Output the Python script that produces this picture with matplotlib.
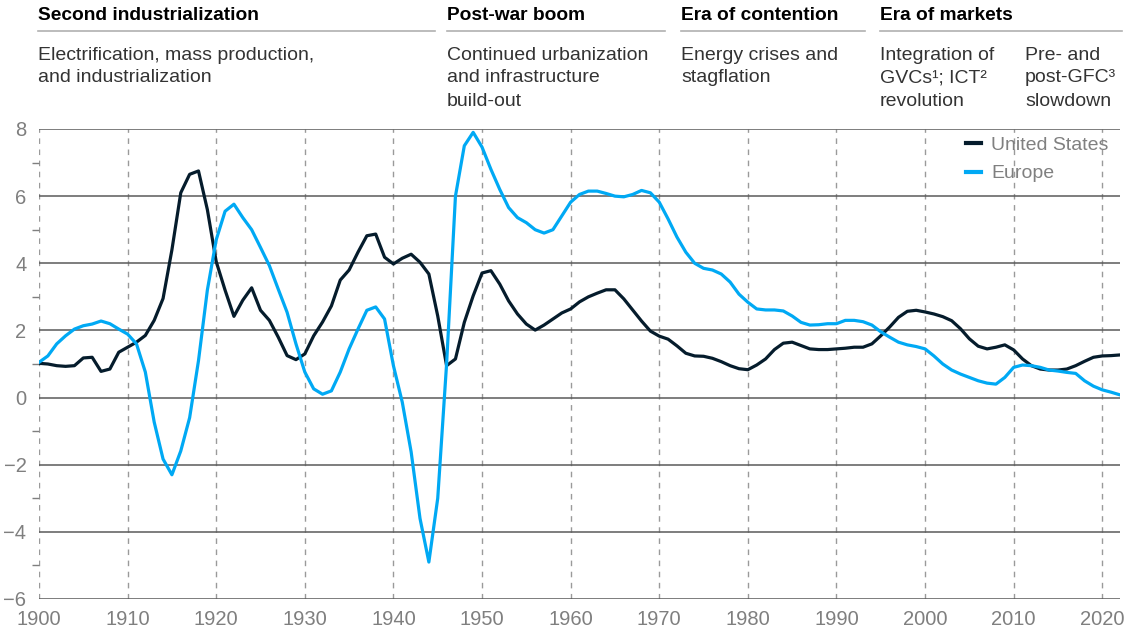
import matplotlib
matplotlib.use("Agg")
import matplotlib.pyplot as plt
from matplotlib.lines import Line2D
import numpy as np

plt.rcParams['font.family'] = ['Liberation Sans', 'DejaVu Sans']

years = list(range(1900, 2023))

us = [1.02, 1.0, 0.95, 0.93, 0.95, 1.18, 1.2, 0.78, 0.85, 1.35,
      1.5, 1.65, 1.85, 2.3, 2.95, 4.4, 6.1, 6.65, 6.75, 5.6,
      4.05, 3.2, 2.42, 2.9, 3.27, 2.6, 2.3, 1.8, 1.25, 1.13,
      1.3, 1.84, 2.25, 2.73, 3.5, 3.8, 4.33, 4.82, 4.87, 4.18,
      3.98, 4.15, 4.27, 4.03, 3.68, 2.43, 0.95, 1.15, 2.24, 3.03,
      3.71, 3.78, 3.38, 2.88, 2.49, 2.19, 2.01, 2.16, 2.34, 2.52,
      2.64, 2.85, 3.0, 3.11, 3.21, 3.21, 2.94, 2.61, 2.28, 1.98,
      1.83, 1.74, 1.54, 1.32, 1.24, 1.23, 1.17, 1.07, 0.95, 0.86,
      0.83, 0.97, 1.15, 1.43, 1.62, 1.65, 1.55, 1.45, 1.43, 1.43,
      1.45, 1.47, 1.5, 1.5, 1.6, 1.84, 2.1, 2.39, 2.57, 2.6,
      2.55, 2.49, 2.41, 2.29, 2.05, 1.75, 1.53, 1.45, 1.5, 1.57,
      1.42, 1.15, 0.95, 0.85, 0.82, 0.82, 0.85, 0.95, 1.08, 1.2,
      1.24, 1.25, 1.27]

europe = [1.05, 1.24, 1.6, 1.84, 2.04, 2.14, 2.19, 2.28, 2.2, 2.04,
          1.89, 1.6, 0.76, -0.73, -1.83, -2.3, -1.59, -0.6, 1.1, 3.2,
          4.7, 5.55, 5.76, 5.36, 5.0, 4.47, 3.93, 3.23, 2.54, 1.6,
          0.76, 0.26, 0.1, 0.2, 0.76, 1.45, 2.04, 2.6, 2.7, 2.34,
          0.95, -0.14, -1.62, -3.6, -4.9, -3.0, 1.0, 6.0, 7.5, 7.9,
          7.46, 6.8, 6.2, 5.66, 5.36, 5.21, 5.0, 4.9, 5.0, 5.41,
          5.82, 6.05, 6.15, 6.15, 6.08, 6.0, 5.98, 6.05, 6.17, 6.1,
          5.82, 5.32, 4.78, 4.33, 4.0, 3.85, 3.8, 3.68, 3.44, 3.08,
          2.84, 2.64, 2.61, 2.61, 2.58, 2.43, 2.24, 2.16, 2.17, 2.2,
          2.2, 2.3, 2.3, 2.26, 2.16, 1.96, 1.8, 1.65, 1.57, 1.52,
          1.45, 1.24, 1.0, 0.82, 0.7, 0.6, 0.5, 0.43, 0.4, 0.6,
          0.9, 0.97, 0.95, 0.9, 0.82, 0.79, 0.75, 0.72, 0.5, 0.34,
          0.23, 0.16, 0.08]

series_names = ["United States", "Europe"]
y_major = [-6, -4, -2, 0, 2, 4, 6, 8]
y_minor = [-5, -3, -1, 1, 3, 5, 7]
x_ticks = list(range(1900, 2021, 10))

era_titles = ["Second industrialization", "Post-war boom", "Era of contention", "Era of markets"]
era_descriptions = ["Electrification, mass production,\nand industrialization",
                    "Continued urbanization\nand infrastructure\nbuild-out",
                    "Energy crises and\nstagflation",
                    "Integration of\nGVCs\u00b9; ICT\u00b2\nrevolution",
                    "Pre- and\npost-GFC\u00b3\nslowdown"]

W, H = 1139, 635
fig = plt.figure(figsize=(W / 100, H / 100), dpi=100)
ax = fig.add_axes([39 / W, 1 - 599 / H, (1120 - 39) / W, (599 - 129) / H])

US_COL = "#051c2c"
EU_COL = "#00a9f4"

for x in x_ticks:
    ax.axvline(x, color="#9a9a9a", lw=1.0, ls=(0, (4, 4)), zorder=1)
for y in y_major:
    ax.axhline(y, color="#5a5a5a", lw=1.1, zorder=1)

ax.plot(years, us, color=US_COL, lw=2.3, solid_joinstyle="round", zorder=3, label=series_names[0])
ax.plot(years, europe, color=EU_COL, lw=2.3, solid_joinstyle="round", zorder=3, label=series_names[1])

ax.set_xlim(1900, 2022)
ax.set_ylim(-6, 8)
ax.set_xticks(x_ticks)
ax.set_yticks(y_major)
ax.set_yticklabels([str(v).replace('-', '\u2212') for v in y_major])
ax.set_yticks(y_minor, minor=True)
ax.tick_params(axis='y', which='major', length=0, pad=9, labelsize=14.5, labelcolor="#7f7f7f")
ax.tick_params(axis='y', which='minor', length=5, width=1, color="#7f7f7f", direction='out')
ax.tick_params(axis='x', length=0, pad=8, labelsize=14.5, labelcolor="#7f7f7f")
for s in ax.spines.values():
    s.set_visible(False)

leg = ax.legend(loc="upper right", bbox_to_anchor=(1.0, 1.009), frameon=False,
                handlelength=0.8, handletextpad=0.5, fontsize=14, labelspacing=0.55,
                borderaxespad=0.2)
for t in leg.get_texts():
    t.set_color("#808080")
for h in leg.get_lines():
    h.set_linewidth(3)

# Header
title_x = [38, 447, 681, 880]
line_spans = [(38, 435), (447, 665), (681, 865), (880, 1122)]
for tx, t in zip(title_x, era_titles):
    fig.text(tx / W, 1 - 16 / H, t, fontsize=13.8, fontweight="bold", color="#000000",
             ha="left", va="center")
for (x0, x1) in line_spans:
    fig.add_artist(Line2D([x0 / W, x1 / W], [1 - 31 / H, 1 - 31 / H],
                          color="#b0b0b0", lw=1.2, transform=fig.transFigure))
desc_x = [38, 447, 681, 880, 1025]
for dx, d in zip(desc_x, era_descriptions):
    for i, line in enumerate(d.split("\n")):
        fig.text(dx / W, 1 - (55 + 23 * i) / H, line, fontsize=14, color="#333333",
                 ha="left", va="center")

fig.savefig("out.png", dpi=100)
